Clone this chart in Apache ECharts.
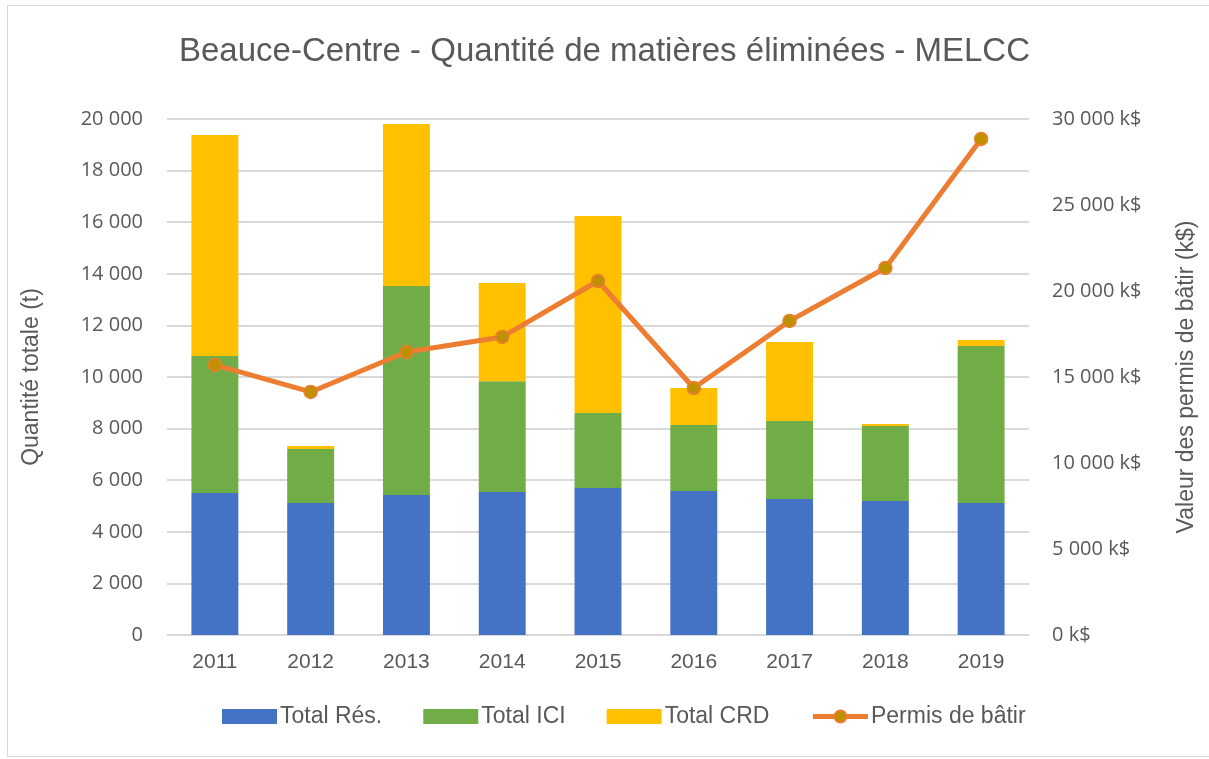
<!DOCTYPE html>
<html>
<head>
<meta charset="utf-8">
<script src="https://cdn.jsdelivr.net/npm/echarts@6/dist/echarts.min.js"></script>
<style>
  html, body { margin: 0; padding: 0; background: #fff; overflow: hidden; width: 1209px; height: 759px; }
  #frame { position: absolute; left: 7px; top: 5px; width: 1202px; height: 752px; border: 1px solid #d9d9d9; border-right: none; box-sizing: border-box; }
  #chart { position: absolute; left: 0; top: 0; width: 1209px; height: 759px; }
</style>
</head>
<body>
<div id="frame"></div>
<div id="chart"></div>
<script>
// Years on the x axis
const years = ["2011", "2012", "2013", "2014", "2015", "2016", "2017", "2018", "2019"];

// Tonnes per stream (stacked bars, left axis)
const totalRes = [5500, 5120, 5430, 5540, 5700, 5580, 5270, 5190, 5120];
const totalICI = [5310, 2090, 8100, 4300, 2900, 2560, 3020, 2910, 6080];
const totalCRD = [8570, 120, 6280, 3800, 7640, 1430, 3070, 80, 230];

// Building permits value in k$ (line, right axis)
const permis = [15700, 14130, 16450, 17330, 20580, 14360, 18260, 21340, 28840];

const textColor = "#595959";
const narrow = "'Liberation Sans Narrow', 'Liberation Sans', sans-serif";

function spaced(v) {
  return String(v).replace(/\B(?=(\d{3})+(?!\d))/g, " ");
}

const chart = echarts.init(document.getElementById("chart"));

chart.setOption({
  animation: false,
  title: {
    text: "Beauce-Centre - Quantité de matières éliminées - MELCC",
    left: "center",
    top: 30,
    textStyle: { fontFamily: narrow, fontSize: 33, fontWeight: "normal", color: textColor },
  },
  grid: { left: 167, right: 180, top: 119, bottom: 124 },
  legend: {
    bottom: 26,
    left: 217,
    itemWidth: 55,
    itemHeight: 15,
    itemGap: 41,
    textStyle: { fontFamily: narrow, fontSize: 23, color: textColor, padding: [0, 0, 0, -2] },
    data: [
      { name: "Total Rés.", icon: "rect" },
      { name: "Total ICI", icon: "rect" },
      { name: "Total CRD", icon: "rect" },
      { name: "Permis de bâtir", lineStyle: { width: 5 } },
    ],
  },
  xAxis: {
    type: "category",
    data: years,
    axisLine: { lineStyle: { color: "#d9d9d9", width: 1 } },
    axisTick: { show: false },
    axisLabel: { fontFamily: narrow, fontSize: 21, color: textColor, margin: 17 },
  },
  yAxis: [
    {
      type: "value",
      min: 0,
      max: 20000,
      interval: 2000,
      name: "Quantité totale (t)",
      nameLocation: "middle",
      nameGap: 124,
      nameTextStyle: { fontFamily: narrow, fontSize: 23, color: textColor },
      axisLabel: { fontFamily: "'Open Sans', sans-serif", fontSize: 20, color: textColor, margin: 24, formatter: spaced },
      splitLine: { lineStyle: { color: "#d9d9d9", width: 2 } },
    },
    {
      type: "value",
      min: 0,
      max: 30000,
      interval: 5000,
      name: "Valeur des permis de bâtir (k$)",
      nameLocation: "middle",
      nameGap: 146,
      nameTextStyle: { fontFamily: narrow, fontSize: 23, color: textColor },
      axisLabel: {
        fontFamily: "'Open Sans', sans-serif",
        fontSize: 20,
        color: textColor,
        margin: 23,
        formatter: (v) => spaced(v) + " k$",
      },
      splitLine: { show: false },
    },
  ],
  series: [
    { name: "Total Rés.", type: "bar", stack: "t", barWidth: "49%", data: totalRes, itemStyle: { color: "#4472C4" } },
    { name: "Total ICI", type: "bar", stack: "t", data: totalICI, itemStyle: { color: "#70AD47" } },
    { name: "Total CRD", type: "bar", stack: "t", data: totalCRD, itemStyle: { color: "#FFC000" } },
    {
      name: "Permis de bâtir",
      type: "line",
      yAxisIndex: 1,
      data: permis,
      symbol: "circle",
      symbolSize: 13,
      lineStyle: { color: "#ED7D31", width: 5 },
      itemStyle: { color: "#BF9000", borderColor: "#ED7D31", borderWidth: 1.5 },
    },
  ],
});
</script>
</body>
</html>
